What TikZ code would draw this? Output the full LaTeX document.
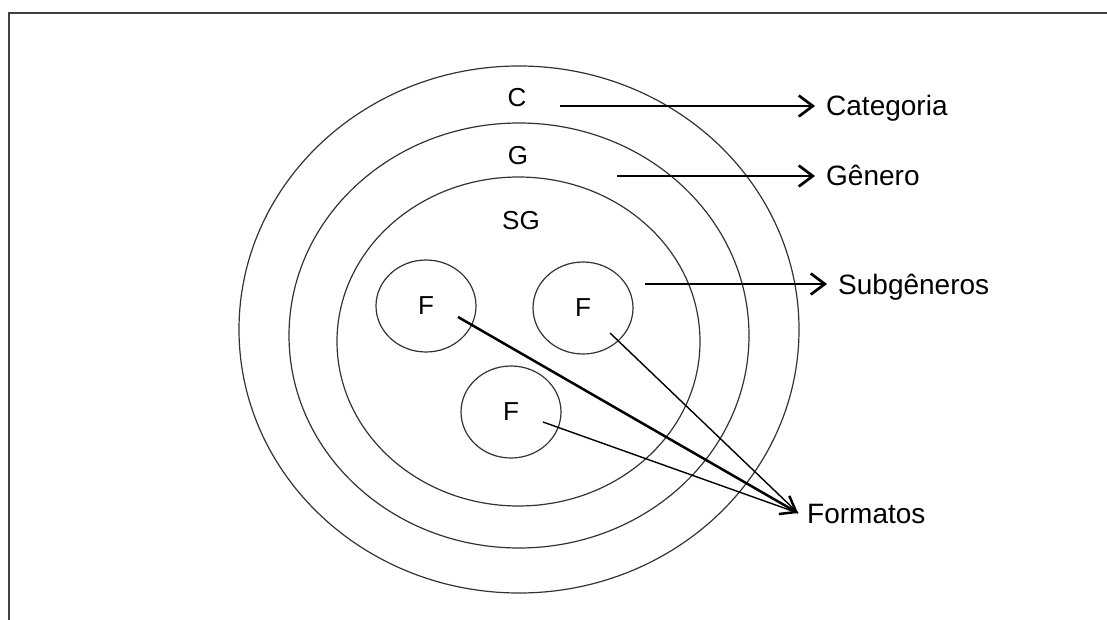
\documentclass[tikz,border=0pt]{standalone}
\usepackage{fontspec}
\setmainfont{Liberation Sans}
\usetikzlibrary{arrows.meta,shapes.geometric}
\begin{document}
\begin{tikzpicture}[x=1pt,y=-1pt,
  ring/.style={draw=black!80,line width=1.2pt},
  fmtcirc/.style={ellipse,draw=black!80,line width=1.2pt,minimum width=100pt,minimum height=92pt,inner sep=0pt,font=\fontsize{26}{30}\selectfont},
  inlbl/.style={inner sep=0pt,font=\fontsize{26}{30}\selectfont},
  outlbl/.style={anchor=west,inner sep=0pt,inner xsep=11pt,text height=20pt,text depth=0pt,font=\fontsize{28}{32}\selectfont},
  arr/.style={line width=2.7pt,-{Straight Barb[length=14pt,width=21pt]}},
  link/.style={line width=1.4pt}]
\useasboundingbox (0,0) rectangle (1107,620);
\draw[line width=1.5pt,black!75] (9,620) -- (9,13) -- (1107,13);
% nested rings
\draw[ring] (519,329.5) ellipse [x radius=280pt, y radius=263.5pt];
\draw[ring] (519,335.5) ellipse [x radius=230pt, y radius=212.5pt];
\draw[ring] (518.5,341.5) ellipse [x radius=181.5pt, y radius=164.5pt];
% inner labels
\node[inlbl] (c) at (517,98) {C};
\node[inlbl] (g) at (518,156) {G};
\node[inlbl] (sg) at (521,221) {SG};
% format circles
\node[fmtcirc] (f1) at (426,306) {F};
\node[fmtcirc] (f2) at (583,308) {F};
\node[fmtcirc] (f3) at (511,412) {F};
% outer labels
\node[outlbl] (cat) at (815,106) {Categoria};
\node[outlbl] (gen) at (815,176) {Gênero};
\node[outlbl] (sub) at (827,284) {Subgêneros};
\node[outlbl,inner xsep=9pt] (form) at (798,513) {Formatos};
% arrow starts
\coordinate (cS) at (560,106);
\coordinate (gS) at (617,176);
\coordinate (sS) at (645,284);
\coordinate (f1S) at (458,317);
\coordinate (f2S) at (610,333);
\coordinate (f3S) at (543,422);
% connectors
\draw[arr] (cS) -- (cat.west);
\draw[arr] (gS) -- (gen.west);
\draw[arr] (sS) -- (sub.west);
\draw[link] (f2S) -- (form.west);
\draw[link] (f3S) -- (form.west);
\draw[arr,line width=2.5pt] (f1S) -- (form.west);
\end{tikzpicture}
\end{document}
